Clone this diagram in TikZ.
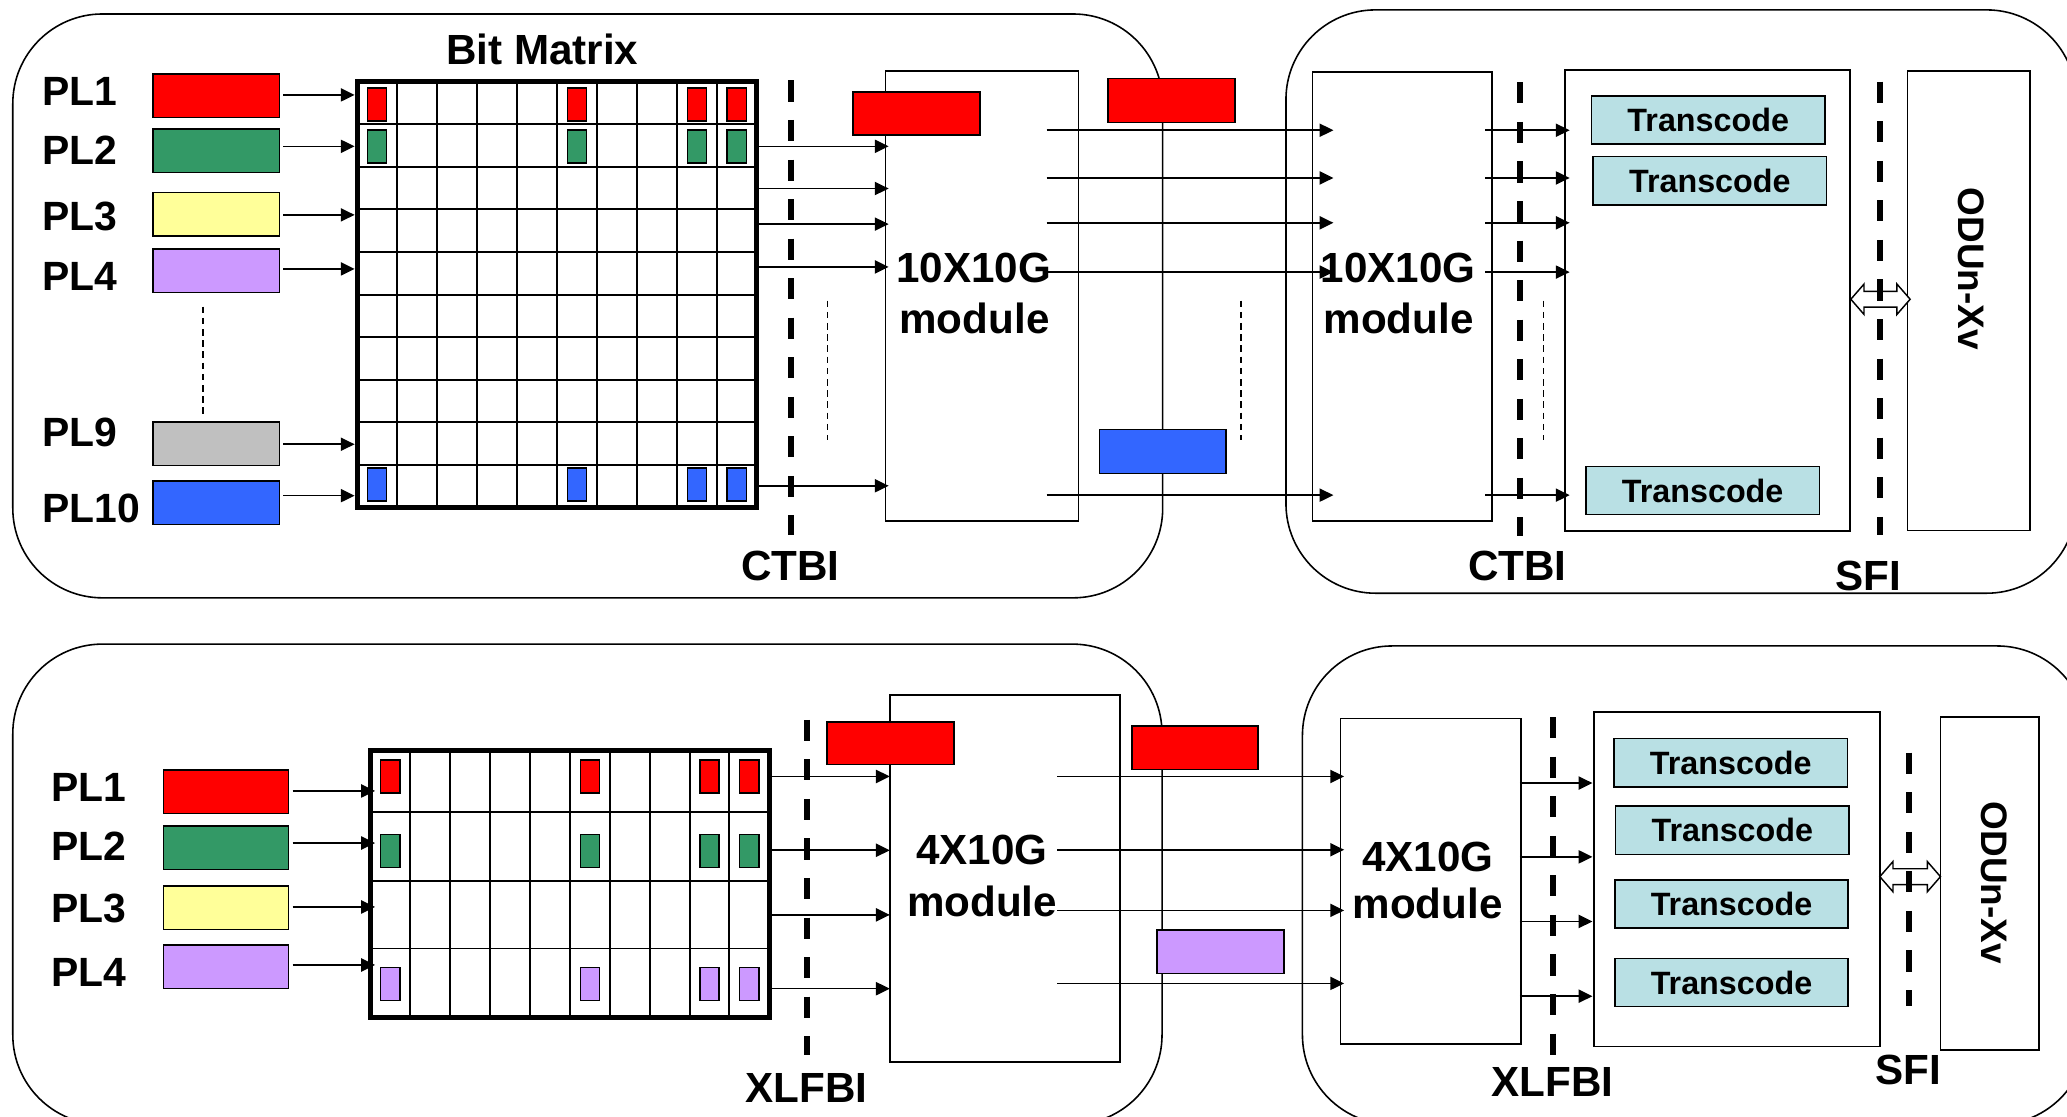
\documentclass[tikz,border=0pt]{standalone}
\usepackage{fontspec}
\setmainfont{Liberation Sans}
\usetikzlibrary{arrows.meta}
\definecolor{cred}{HTML}{FF0000}
\definecolor{cgreen}{HTML}{339966}
\definecolor{cyellow}{HTML}{FFFF99}
\definecolor{cpurple}{HTML}{CC99FF}
\definecolor{cgray}{HTML}{C0C0C0}
\definecolor{cblue}{HTML}{3366FF}
\definecolor{ctrans}{RGB}{185,224,228}
\newcommand\dblarrow[3]{%
  \draw[line width=1.1pt, fill=white] (#1,#3) -- ({#1+10},{#3-11.5}) -- ({#1+10},{#3-6}) -- ({#2-10},{#3-6}) -- ({#2-10},{#3-11.5}) -- (#2,#3) -- ({#2-10},{#3+11.5}) -- ({#2-10},{#3+6}) -- ({#1+10},{#3+6}) -- ({#1+10},{#3+11.5}) -- cycle;}
\begin{document}
\begin{tikzpicture}[x=1pt,y=-1pt,
  panel/.style={draw, line width=1.2pt, rounded corners=68pt},
  box/.style={draw, line width=1.2pt, inner sep=0pt, outer sep=0pt},
  plbox/.style={box, minimum width=96pt, minimum height=33pt},
  cellbox/.style={draw, line width=1pt, minimum width=14.5pt, minimum height=25pt, inner sep=0pt, outer sep=0pt},
  tcbox/.style={box, fill=ctrans, minimum width=177pt, minimum height=36.5pt, font=\fontsize{24.5}{29}\selectfont\bfseries},
  arr/.style={line width=1.2pt, -{Triangle[length=10.5pt,width=10pt]}},
  bigdash/.style={line width=4.5pt, dash pattern=on 16pt off 14pt},
  smalldash/.style={line width=1pt, dash pattern=on 5pt off 3.5pt},
  lbl/.style={font=\fontsize{32}{38}\selectfont\bfseries, inner sep=0pt, anchor=base},
  pllbl/.style={font=\fontsize{31}{37}\selectfont\bfseries, inner sep=0pt, anchor=base west},
  odulbl/.style={font=\fontsize{28}{34}\selectfont\bfseries, inner sep=0pt, rotate=-90},
]
\useasboundingbox (0,0) rectangle (1568,847);
\clip (0,0) rectangle (1568,847);

% ---------------- panels ----------------
\draw[panel] (9.7,10.6) rectangle (882,453.5);
\draw[panel] (975.5,7.5) rectangle (1575,450);
\draw[panel] (9.7,488.6) rectangle (881.5,853);
\draw[panel] (988,490) rectangle (1583,853);

% ================= TOP =================
% PL boxes
\node[plbox, fill=cred]    (pl1)  at (164,72.5) {};
\node[plbox, fill=cgreen]  (pl2)  at (164,114.5) {};
\node[plbox, fill=cyellow] (pl3)  at (164,162.5) {};
\node[plbox, fill=cpurple] (pl4)  at (164,205.5) {};
\node[plbox, fill=cgray]   (pl9)  at (164,336.5) {};
\node[plbox, fill=cblue]   (pl10) at (164,381.5) {};
\node[pllbl] (tpl1)  at (32,80)    {PL1};
\node[pllbl] (tpl2)  at (32,125)   {PL2};
\node[pllbl] (tpl3)  at (32,174.5) {PL3};
\node[pllbl] (tpl4)  at (32,220.5) {PL4};
\node[pllbl] (tpl9)  at (32,339)   {PL9};
\node[pllbl] (tpl10) at (32,396)   {PL10};
\draw[smalldash] (154,232.6) -- (154,315.4);

% bit matrix
\foreach \i in {1,...,9} {
  \draw[line width=1.5pt] ({271+\i*30.3},62) -- ({271+\i*30.3},385);
  \draw[line width=1.5pt] (271,{62+\i*32.3}) -- (574,{62+\i*32.3});
}
\node[draw, line width=3.9pt, minimum width=303pt, minimum height=323pt, inner sep=0pt, outer sep=0pt] (mat1) at (422.5,223.5) {};
\foreach \c in {1,6,9,10} {
  \node[cellbox, fill=cred]   (ma\c) at ({271+(\c-0.5)*30.3},79.2) {};
  \node[cellbox, fill=cgreen] (mb\c) at ({271+(\c-0.5)*30.3},111.2) {};
  \node[cellbox, fill=cblue]  (mc\c) at ({271+(\c-0.5)*30.3},367.5) {};
}
\node[lbl] (tbm) at (411.3,48.8) {Bit Matrix};

\foreach \n/\y in {pl1/72, pl2/111, pl3/163, pl4/204, pl9/337, pl10/376}
  \draw[arr, shorten <=3pt, shorten >=2pt] (\n.east |- 0,\y) -- (mat1.west |- 0,\y);

% module A
\node[box, minimum width=146.4pt, minimum height=341.5pt] (modA) at (744.8,224.55) {};
\node[box, fill=cred, minimum width=96.5pt, minimum height=32.5pt] (redA) at (695.25,86.05) {};
\node[lbl] (tmA1) at (738.6,214.5) {10X10G};
\node[lbl] (tmA2) at (739.2,252.9) {module};
\foreach \y in {111,143,170,202.5,368.5}
  \draw[arr, shorten >=-2.5pt] (mat1.east |- 0,\y) -- (modA.west |- 0,\y);

% module B
\node[box, minimum width=136.2pt, minimum height=340.9pt] (modB) at (1063.6,224.85) {};
\node[lbl] (tmB1) at (1060.5,214.5) {10X10G};
\node[lbl] (tmB2) at (1061,252.9) {module};
\node[box, fill=cred,  minimum width=96.2pt, minimum height=33.4pt] (redB) at (888.7,76.3) {};
\node[box, fill=cblue, minimum width=95.8pt, minimum height=33.3pt] (bluB) at (882.1,342.6) {};
\foreach \y in {98.8,135,169,206.4,375.6}
  \draw[arr, shorten <=-24pt, shorten >=-16pt] (modA.east |- 0,\y) -- (modB.west |- 0,\y);

% transcode container
\node[box, minimum width=216.1pt, minimum height=349.3pt] (tc1) at (1295.35,227.95) {};
\node[tcbox] (t11) at (1295.85,90.85) {Transcode};
\node[tcbox] (t12) at (1297.05,137.05) {Transcode};
\node[tcbox] (t13) at (1291.6,372.1) {Transcode};
\foreach \y in {98.8,135,169,206.4,375.6}
  \draw[arr, shorten <=-5pt, shorten >=-3.4pt] (modB.east |- 0,\y) -- (tc1.west |- 0,\y);

% ODU
\node[box, minimum width=93pt, minimum height=348.8pt] (odu1) at (1493.5,228.1) {};
\node[odulbl] (todu1) at (1495,204) {ODUn-Xv};
\dblarrow{1404}{1449}{227}

% dashed lines top
\draw[bigdash] (600,61) -- (600,406);
\draw[bigdash] (1153,62.5) -- (1153,406.8);
\draw[bigdash] (1426,62) -- (1426,406);
\draw[smalldash] (627.5,228) -- (627.5,334);
\draw[smalldash] (941.5,228) -- (941.5,334);
\draw[smalldash] (1170.7,228) -- (1170.7,334);
\node[lbl] (tctbi1) at (599.5,440.4) {CTBI};
\node[lbl] (tctbi2) at (1151,440.4) {CTBI};
\node[lbl] (tsfi1) at (1417,447.7) {SFI};

% ================= BOTTOM =================
\node[plbox, fill=cred,    minimum width=95pt] (ql1) at (171.5,600.5) {};
\node[plbox, fill=cgreen,  minimum width=95pt] (ql2) at (171.5,643) {};
\node[plbox, fill=cyellow, minimum width=95pt] (ql3) at (171.5,688.5) {};
\node[plbox, fill=cpurple, minimum width=95pt] (ql4) at (171.5,733.5) {};
\node[pllbl] (tql1) at (38.7,608) {PL1};
\node[pllbl] (tql2) at (38.7,653) {PL2};
\node[pllbl] (tql3) at (38.7,700) {PL3};
\node[pllbl] (tql4) at (38.7,748) {PL4};

\foreach \i in {1,...,9}
  \draw[line width=1.5pt] ({281+\i*30.26},569) -- ({281+\i*30.26},772);
\foreach \y in {616,668,719.5}
  \draw[line width=1.5pt] (281,\y) -- (583.6,\y);
\node[draw, line width=3.9pt, minimum width=302.6pt, minimum height=203pt, inner sep=0pt, outer sep=0pt] (mat2) at (432.3,670.5) {};
\foreach \c in {1,6,9,10} {
  \node[cellbox, fill=cred]    (na\c) at ({281+(\c-0.5)*30.26},589) {};
  \node[cellbox, fill=cgreen]  (nb\c) at ({281+(\c-0.5)*30.26},645.5) {};
  \node[cellbox, fill=cpurple] (nc\c) at ({281+(\c-0.5)*30.26},746.4) {};
}
\foreach \n/\y in {ql1/600, ql2/639.5, ql3/688, ql4/732}
  \draw[arr, shorten <=3pt, shorten >=-3.5pt] (\n.east |- 0,\y) -- (mat2.west |- 0,\y);

% module C
\node[box, minimum width=174.6pt, minimum height=278.5pt] (modC) at (762.3,666.25) {};
\node[box, fill=cred, minimum width=96pt, minimum height=32.4pt] (redC) at (675.5,563.8) {};
\node[lbl] (tmC1) at (744.7,656) {4X10G};
\node[lbl] (tmC2) at (745,695.6) {module};
\foreach \y in {589,645,694,750}
  \draw[arr] (mat2.east |- 0,\y) -- (modC.west |- 0,\y);

% module D
\node[box, minimum width=136.6pt, minimum height=247pt] (modD) at (1085.3,668.5) {};
\node[lbl] (tmD1) at (1083,661.4) {4X10G};
\node[lbl] (tmD2) at (1083,697) {module};
\node[box, fill=cred,    minimum width=95.9pt, minimum height=32.8pt] (redD) at (906.55,567.2) {};
\node[box, fill=cpurple, minimum width=96pt,   minimum height=32.8pt] (purD) at (925.8,722) {};
\foreach \y in {589,644.6,690.6,746}
  \draw[arr, shorten <=-47.6pt, shorten >=-2.6pt] (modC.east |- 0,\y) -- (modD.west |- 0,\y);

% transcode container bottom
\node[box, minimum width=217pt, minimum height=254pt] (tc2) at (1317.5,667) {};
\node[tcbox] (t21) at (1312.9,578.6) {Transcode};
\node[tcbox] (t22) at (1314.1,629.8) {Transcode};
\node[tcbox] (t23) at (1313.5,685.9) {Transcode};
\node[tcbox] (t24) at (1313.5,745.3) {Transcode};
\foreach \y in {594,650,699,755.7}
  \draw[arr, shorten <=-0.7pt, shorten >=1pt] (modD.east |- 0,\y) -- (tc2.west |- 0,\y);

% ODU bottom
\node[box, minimum width=74.7pt, minimum height=252.6pt] (odu2) at (1509.3,670.3) {};
\node[odulbl] (todu2) at (1513,669.6) {ODUn-Xv};
\dblarrow{1426}{1472}{665}

% dashed lines bottom
\draw[bigdash] (612,546) -- (612,800);
\draw[bigdash] (1178,544) -- (1178,800);
\draw[bigdash] (1448,571) -- (1448,763);
\node[lbl] (txl1) at (612,836) {XLFBI};
\node[lbl] (txl2) at (1177.7,832) {XLFBI};
\node[lbl] (tsfi2) at (1447.5,823) {SFI};
\end{tikzpicture}
\end{document}
